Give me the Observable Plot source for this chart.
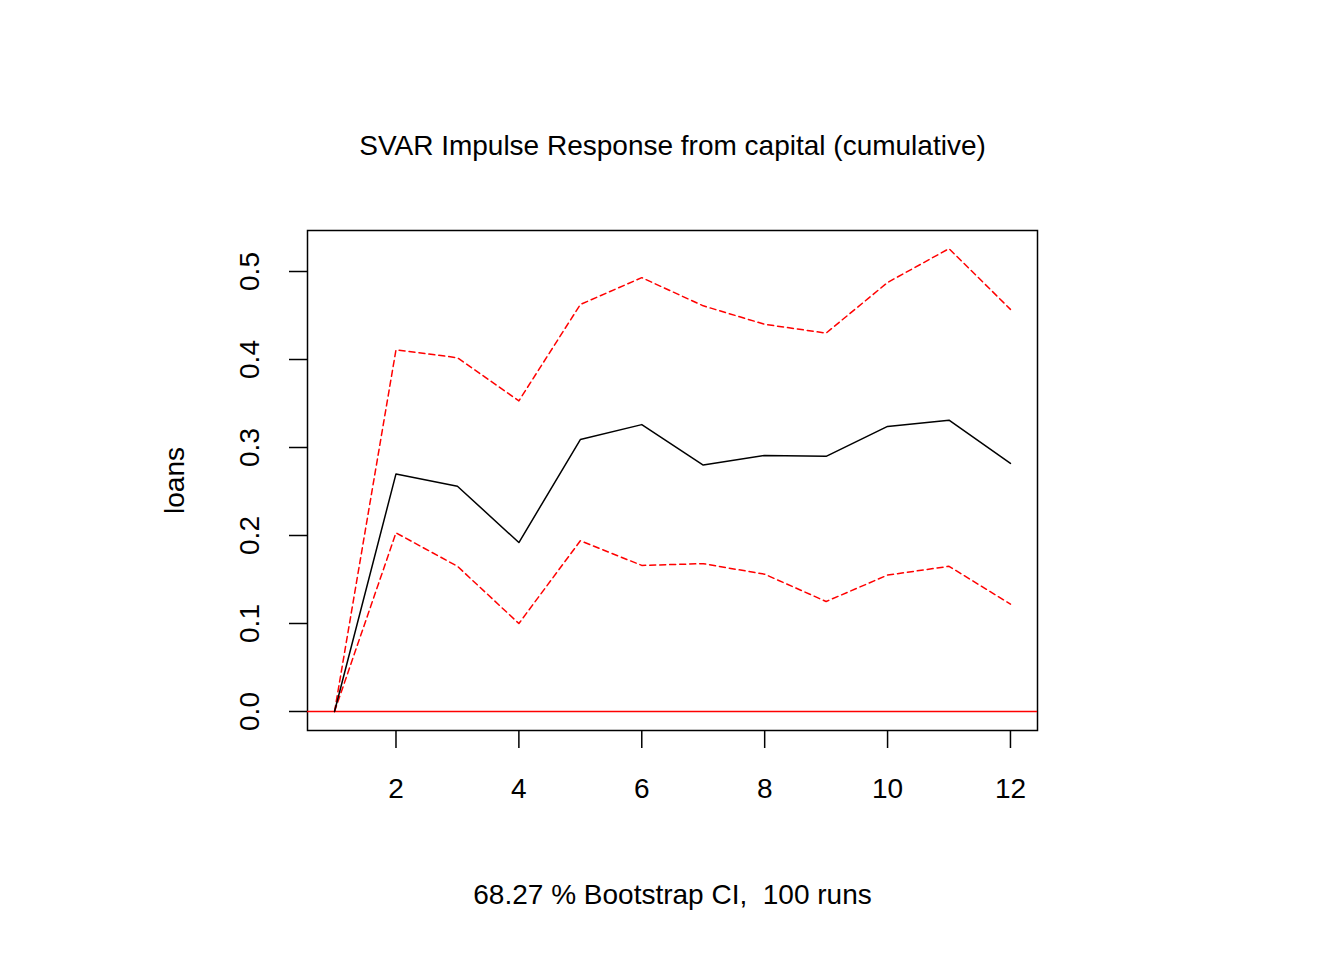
<!DOCTYPE html>
<html><head><meta charset="utf-8">
<script src="https://cdn.jsdelivr.net/npm/d3@7"></script>
<script src="https://cdn.jsdelivr.net/npm/@observablehq/plot@0.6"></script>
<style>body{margin:0;background:#fff}svg{font-family:"Liberation Sans",Arial,sans-serif}</style>
</head><body><div id="c"></div>
<script>
const steps = [1,2,3,4,5,6,7,8,9,10,11,12];
const irf   = [0,0.270,0.256,0.192,0.309,0.326,0.280,0.291,0.290,0.324,0.331,0.282];
const upper = [0,0.411,0.402,0.353,0.4625,0.493,0.461,0.440,0.430,0.4875,0.526,0.457];
const lower = [0,0.203,0.165,0.100,0.194,0.166,0.168,0.156,0.125,0.155,0.165,0.122];
const xTicks = [2,4,6,8,10,12];
const yTicks = [0,0.1,0.2,0.3,0.4,0.5];
const mk = arr => steps.map((s,i)=>({x:s,y:arr[i]}));
const fs = 28;
const chart = Plot.plot({
  width:1344, height:960,
  marginLeft:307, marginRight:307, marginTop:230, marginBottom:230,
  x:{domain:[0.56,12.44]},
  y:{domain:[-0.0216,0.5466]},
  marks:[
    Plot.frame({stroke:"black", strokeWidth:1.5}),
    Plot.ruleY([0],{stroke:"red", strokeWidth:1.5}),
    Plot.line(mk(upper),{x:"x",y:"y",stroke:"red",strokeWidth:1.5,strokeDasharray:"6,4"}),
    Plot.line(mk(lower),{x:"x",y:"y",stroke:"red",strokeWidth:1.5,strokeDasharray:"6,4"}),
    Plot.line(mk(irf),{x:"x",y:"y",stroke:"black",strokeWidth:1.5}),
    Plot.axisX(xTicks,{tickSize:18,tickPadding:30,fontSize:fs,stroke:"black",strokeWidth:1.5,color:"black",label:null}),
    Plot.axisY(yTicks,{tickSize:18,tickFormat:()=>"",stroke:"black",strokeWidth:1.5,label:null}),
    Plot.text(yTicks,{y:d=>d,text:d=>d3.format(".1f")(d),frameAnchor:"left",textAnchor:"middle",dx:-57,rotate:-90,fontSize:fs,fill:"black"}),
    Plot.text(["loans"],{frameAnchor:"left",textAnchor:"middle",dx:-132,rotate:-90,fontSize:fs,fill:"black"}),
    Plot.text(["SVAR Impulse Response from capital (cumulative)"],{frameAnchor:"top",dy:-95,fontSize:fs,fill:"black"}),
    Plot.text(["68.27 % Bootstrap CI,  100 runs"],{frameAnchor:"bottom",dy:173,fontSize:fs,fill:"black"})
  ]
});
document.getElementById("c").appendChild(chart);
</script></body></html>
